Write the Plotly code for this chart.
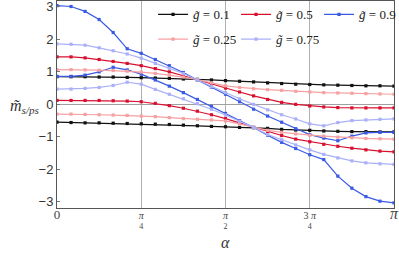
import numpy as np
import plotly.graph_objects as go

# alpha grid: k*pi/24, k = 0..24
alpha = [k * np.pi / 24 for k in range(25)]

g_labels = ["0.1", "0.25", "0.5", "0.75", "0.9"]

m_s_01 = [0.85, 0.85, 0.85, 0.84, 0.84, 0.83, 0.82, 0.81, 0.80, 0.78, 0.77, 0.75, 0.73,
          0.71, 0.69, 0.66, 0.64, 0.62, 0.61, 0.60, 0.59, 0.58, 0.57, 0.57, 0.56]
m_ps_01 = [-0.55, -0.56, -0.57, -0.57, -0.58, -0.59, -0.60, -0.61, -0.62, -0.64, -0.66, -0.68, -0.69,
           -0.71, -0.72, -0.74, -0.77, -0.79, -0.80, -0.82, -0.83, -0.84, -0.84, -0.85, -0.85]

m_s_025 = [1.07, 1.07, 1.06, 1.05, 1.04, 1.02, 0.99, 0.95, 0.90, 0.84, 0.76, 0.66, 0.57,
           0.52, 0.48, 0.45, 0.43, 0.40, 0.38, 0.36, 0.35, 0.34, 0.33, 0.32, 0.31]
m_ps_025 = [-0.30, -0.30, -0.31, -0.32, -0.33, -0.34, -0.36, -0.38, -0.41, -0.44, -0.46, -0.48, -0.51,
            -0.60, -0.71, -0.80, -0.86, -0.91, -0.95, -0.98, -1.01, -1.03, -1.05, -1.06, -1.07]

m_s_05 = [1.46, 1.46, 1.43, 1.38, 1.32, 1.26, 1.19, 1.10, 1.00, 0.88, 0.75, 0.62, 0.50,
          0.38, 0.26, 0.15, 0.06, 0.00, -0.05, -0.08, -0.10, -0.11, -0.11, -0.11, -0.11]
m_ps_05 = [0.12, 0.12, 0.12, 0.12, 0.11, 0.10, 0.08, 0.03, -0.04, -0.12, -0.21, -0.32, -0.44,
           -0.57, -0.71, -0.84, -0.96, -1.07, -1.15, -1.23, -1.29, -1.35, -1.40, -1.44, -1.46]

m_s_075 = [1.86, 1.85, 1.82, 1.74, 1.65, 1.55, 1.42, 1.26, 1.11, 0.95, 0.75, 0.55, 0.36,
           0.17, 0.00, -0.17, -0.32, -0.45, -0.60, -0.66, -0.56, -0.50, -0.48, -0.46, -0.45]
m_ps_075 = [0.47, 0.47, 0.49, 0.52, 0.58, 0.68, 0.62, 0.46, 0.31, 0.17, 0.02, -0.15, -0.33,
            -0.52, -0.71, -0.93, -1.09, -1.25, -1.40, -1.54, -1.65, -1.74, -1.80, -1.83, -1.85]

m_s_09 = [3.04, 3.01, 2.86, 2.61, 2.21, 1.71, 1.57, 1.38, 1.19, 0.98, 0.75, 0.53, 0.31,
          0.08, -0.15, -0.36, -0.55, -0.75, -0.93, -1.04, -1.12, -0.98, -0.88, -0.86, -0.86]
m_ps_09 = [0.86, 0.86, 0.90, 1.00, 1.14, 1.06, 0.93, 0.75, 0.56, 0.36, 0.15, -0.06, -0.28,
           -0.50, -0.71, -0.95, -1.17, -1.36, -1.55, -1.70, -2.21, -2.58, -2.84, -2.98, -3.03]

x_tick_vals = [0, np.pi / 4, np.pi / 2, 3 * np.pi / 4, np.pi]
x_tick_text = [
    "<span style='font-size:13px'>0</span>",
    "<span style='font-size:10px'><i>π</i></span><br>4",
    "<span style='font-size:10px'><i>π</i></span><br>2",
    "<span style='font-size:10px'>3 <i>π</i></span><br>4",
    "<span style='font-size:16px'><i>π</i></span>",
]
y_tick_vals = [-3, -2, -1, 0, 1, 2, 3]
y_tick_text = ["−3", "−2", "−1", "0", "1", "2", "3"]

colors = {
    "0.1": "#111111",
    "0.25": "#f7a0a2",
    "0.5": "#d8102f",
    "0.75": "#aab0f8",
    "0.9": "#3a5ae4",
}
series = {
    "0.1": (m_s_01, m_ps_01),
    "0.25": (m_s_025, m_ps_025),
    "0.5": (m_s_05, m_ps_05),
    "0.75": (m_s_075, m_ps_075),
    "0.9": (m_s_09, m_ps_09),
}
legend_of = {"0.1": "legend", "0.5": "legend", "0.9": "legend",
             "0.25": "legend2", "0.75": "legend2"}

fig = go.Figure()
order = ["0.1", "0.5", "0.9", "0.25", "0.75"]
for g in order:
    s, ps = series[g]
    for i, yv in enumerate((s, ps)):
        fig.add_trace(go.Scatter(
            x=alpha, y=yv, mode="lines+markers",
            line=dict(color=colors[g], width=1.2),
            marker=dict(color=colors[g], size=3.2, symbol="square"),
            name="<i>g̃</i> = " + g,
            legendgroup=g, showlegend=(i == 0),
            legend=legend_of[g],
        ))

legend_font = dict(family="Liberation Serif, DejaVu Serif, serif", size=13, color="#222")
fig.update_layout(
    width=399, height=255,
    margin=dict(l=57, r=5, t=1, b=47, autoexpand=False),
    paper_bgcolor="white", plot_bgcolor="white",
    showlegend=True,
    legend=dict(orientation="h", x=0.285, y=1.008, xanchor="left", yanchor="top",
                bgcolor="rgba(0,0,0,0)", font=legend_font, entrywidth=38,
                traceorder="normal", itemwidth=30),
    legend2=dict(orientation="h", x=0.285, y=0.888, xanchor="left", yanchor="top",
                 bgcolor="rgba(0,0,0,0)", font=legend_font, entrywidth=38,
                 traceorder="normal", itemwidth=30),
    xaxis=dict(range=[0, np.pi], tickvals=x_tick_vals, ticktext=x_tick_text,
               showgrid=True, gridcolor="#b0b0b0", gridwidth=1,
               showline=True, mirror=True, linecolor="#555", linewidth=1,
               ticks="", zeroline=False, ticklabeloverflow="allow",
               tickfont=dict(family="Liberation Serif, DejaVu Serif, serif", size=8, color="#444")),
    yaxis=dict(range=[-3.19, 3.18], tickvals=y_tick_vals, ticktext=y_tick_text,
               showgrid=False, zeroline=True, zerolinecolor="#a0a0a0", zerolinewidth=1,
               showline=True, mirror=True, linecolor="#555", linewidth=1,
               ticks="inside", ticklen=3, tickcolor="#777", ticklabeloverflow="allow",
               tickfont=dict(family="Liberation Sans, Arial, sans-serif", size=13, color="#333")),
    annotations=[
        dict(text="<i>m̃</i><sub><i>s/ps</i></sub>", xref="paper", yref="paper",
             x=-0.095, y=0.49, xanchor="center", yanchor="middle", showarrow=False,
             font=dict(family="Liberation Serif, DejaVu Serif, serif", size=16, color="#333")),
        dict(text="<i>α</i>", xref="x", yref="paper", x=np.pi / 2, y=-0.165,
             xanchor="center", yanchor="middle", showarrow=False,
             font=dict(family="Liberation Serif, DejaVu Serif, serif", size=16, color="#333")),
    ],
)

fig.write_html("out.html", config={"displayModeBar": False},
               post_script="document.body.style.margin='0';")
